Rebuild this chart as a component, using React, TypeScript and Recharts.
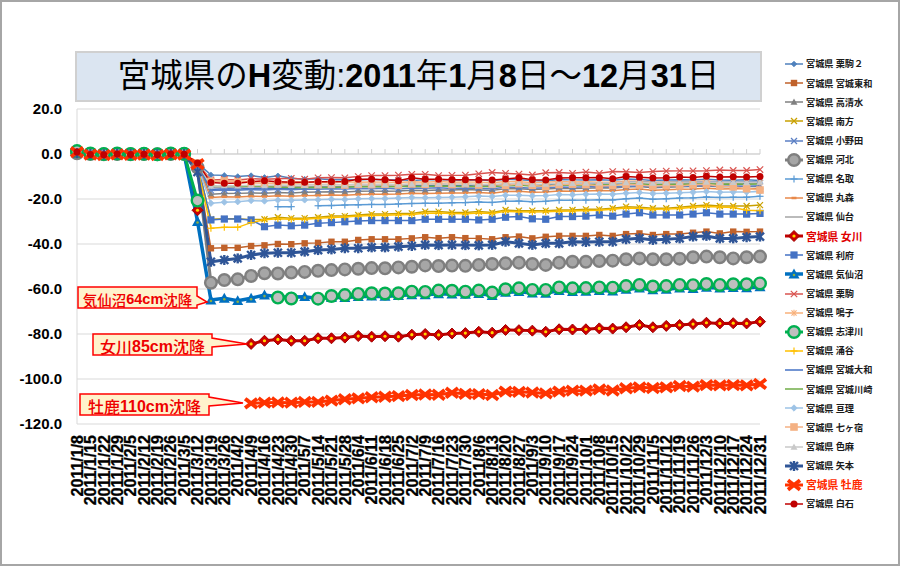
import React from 'react';
import { LineChart, Line, XAxis, YAxis, CartesianGrid, ReferenceLine, Legend } from 'recharts';

const dates = ['2011/1/8','2011/1/15','2011/1/22','2011/1/29','2011/2/5','2011/2/12','2011/2/19','2011/2/26','2011/3/5','2011/3/12','2011/3/19','2011/3/26','2011/4/2','2011/4/9','2011/4/16','2011/4/23','2011/4/30','2011/5/7','2011/5/14','2011/5/21','2011/5/28','2011/6/4','2011/6/11','2011/6/18','2011/6/25','2011/7/2','2011/7/9','2011/7/16','2011/7/23','2011/7/30','2011/8/6','2011/8/13','2011/8/20','2011/8/27','2011/9/3','2011/9/10','2011/9/17','2011/9/24','2011/10/1','2011/10/8','2011/10/15','2011/10/22','2011/10/29','2011/11/5','2011/11/12','2011/11/19','2011/11/26','2011/12/3','2011/12/10','2011/12/17','2011/12/24','2011/12/31'];

const yTicks = [20, 0, -20, -40, -60, -80, -100, -120];

const kurikoma2 = [0.6,-0.2,-0.4,0.1,-0.3,0.0,-0.2,0.2,-0.1,-4.0,
  -9.3,-9.5,-10.0,-9.6,-10.4,-9.7,-10.8,-11.2,-11.0,-11.4,
  -11.3,-11.5,-11.2,-11.6,-11.4,-11.8,-11.5,-11.3,-11.6,-11.7,
  -11.5,-11.9,-11.2,-11.4,-11.8,-12.0,-11.3,-11.5,-11.6,-11.4,
  -11.7,-11.1,-11.3,-11.8,-11.6,-11.4,-11.5,-11.2,-11.6,-11.7,
  -11.5,-11.8];
const towa = [0.5,0.0,-0.2,0.0,-0.1,0.0,-0.2,0.0,-0.1,-6.0,
  -41.9,-41.7,-41.7,-40.9,-40.6,-40.0,-40.1,-39.7,-39.5,-39.0,
  -39.0,-38.2,-37.9,-37.9,-37.9,-37.5,-37.0,-37.4,-37.0,-37.4,
  -37.5,-37.9,-37.0,-36.7,-37.5,-36.8,-36.4,-36.4,-36.4,-36.0,
  -36.4,-35.6,-35.3,-36.0,-35.6,-35.6,-35.0,-34.5,-35.3,-34.5,
  -34.6,-34.5];
const takashimizu = [0.7,-0.1,-0.3,0.0,-0.2,0.1,-0.3,0.1,0.0,-4.5,
  -17.9,-17.6,-17.5,-17.3,-17.4,-17.1,-17.3,-17.0,-16.9,-16.8,
  -16.9,-16.6,-16.5,-16.5,-16.4,-16.1,-16.2,-16.0,-16.0,-15.8,
  -16.0,-16.1,-15.5,-15.4,-15.8,-15.6,-15.2,-15.3,-15.2,-15.0,
  -15.1,-14.7,-14.5,-15.0,-14.8,-14.6,-14.5,-14.2,-14.5,-14.4,
  -14.4,-14.5];
const minamikata = [0.4,0.0,-0.2,0.1,-0.1,0.0,-0.2,0.1,0.0,-5.0,
  -29.0,-28.8,-28.8,-29.2,-29.0,-28.1,-28.5,-28.5,-28.1,-27.6,
  -27.6,-27.1,-26.7,-26.7,-26.4,-26.4,-25.6,-25.6,-26.0,-26.0,
  -25.6,-26.0,-24.9,-25.2,-25.2,-25.2,-24.9,-24.9,-24.6,-24.6,
  -24.1,-23.4,-23.7,-24.1,-24.1,-23.7,-23.1,-22.7,-23.1,-23.1,
  -23.1,-22.7];
const onoda = [0.5,-0.1,-0.2,0.0,-0.2,0.0,-0.1,0.0,-0.1,-4.8,
  -16.2,-16.0,-16.1,-15.8,-16.0,-15.7,-15.9,-15.6,-15.7,-15.5,
  -15.6,-15.3,-15.4,-15.2,-15.5,-15.1,-15.2,-15.0,-15.3,-15.1,
  -15.2,-15.4,-14.8,-14.9,-15.2,-15.0,-14.7,-14.8,-14.6,-14.6,
  -14.7,-14.3,-14.2,-14.6,-14.4,-14.3,-14.2,-14.0,-14.3,-14.2,
  -14.3,-14.1];
const kahoku = [0.3,0.0,-0.1,0.0,-0.1,0.0,-0.1,0.0,0.0,-6.0,
  -57.2,-56.0,-55.7,-54.2,-53.0,-53.1,-52.7,-52.4,-51.9,-51.6,
  -51.3,-51.0,-50.7,-50.8,-50.4,-50.1,-49.5,-49.8,-49.6,-49.7,
  -49.3,-48.9,-48.6,-48.3,-48.9,-49.3,-48.3,-47.9,-47.9,-47.6,
  -47.4,-46.8,-46.4,-46.8,-46.8,-46.5,-45.9,-45.6,-45.9,-46.4,
  -45.9,-45.6];
const natori = [0.5,0.0,-0.1,0.1,-0.1,0.0,-0.2,0.0,0.0,-5.0,
  null,null,null,null,null,-23.4,-23.4,null,-23.0,-22.9,
  -22.7,-22.6,-22.4,-22.4,-22.2,-22.0,-21.9,-21.9,-21.7,-21.6,
  -21.3,-21.5,-21.0,-20.9,-21.2,-21.0,-20.6,-20.6,-20.5,-20.3,
  -20.4,-19.9,-19.6,-20.1,-19.9,-19.6,-19.5,-19.1,-19.3,-19.2,
  -19.2,-18.8];
const marumori = [0.6,-0.1,-0.2,0.0,-0.2,0.0,-0.2,0.1,-0.1,-5.5,
  -19.3,-19.0,-19.1,-18.8,-18.9,-18.6,-18.8,-18.5,-18.4,-18.2,
  -18.3,-18.0,-17.9,-17.9,-17.8,-17.5,-17.6,-17.4,-17.3,-17.3,
  -17.1,-17.4,-16.7,-16.6,-17.0,-16.9,-16.4,-16.5,-16.4,-16.2,
  -16.3,-15.8,-15.6,-16.1,-15.9,-15.7,-15.6,-15.2,-15.5,-15.4,
  -15.4,-15.3];
const sendai = [0.4,0.0,-0.1,0.0,-0.1,0.0,-0.1,0.0,0.0,-4.2,
  -15.0,-14.8,-14.9,-14.6,-14.8,-14.5,-14.7,-14.4,-14.6,-14.4,
  -14.5,-14.2,-14.3,-14.2,-14.4,-14.0,-14.1,-13.9,-14.1,-14.0,
  -14.1,-14.3,-13.8,-13.8,-14.1,-14.0,-13.6,-13.7,-13.6,-13.5,
  -13.6,-13.2,-13.1,-13.5,-13.3,-13.2,-13.1,-12.9,-13.2,-13.1,
  -13.2,-13.0];
const onagawa = [1.2,0.0,-0.2,0.1,-0.1,0.0,-0.2,0.1,0.0,-25.0,
  null,null,null,-84.4,-83.0,-82.4,-83.0,-83.0,-81.9,-81.9,
  -81.6,-80.9,-81.2,-81.0,-81.2,-80.3,-80.0,-80.4,-79.8,-79.6,
  -79.0,-79.4,-78.2,-78.3,-78.5,-79.0,-77.9,-78.0,-77.9,-77.5,
  -77.6,-77.0,-76.0,-77.0,-76.4,-76.0,-75.6,-75.0,-75.3,-75.2,
  -75.3,-74.5];
const rifu = [0.5,0.0,-0.2,0.0,-0.1,0.1,-0.2,0.0,0.0,-5.0,
  -29.3,-28.9,-28.9,-29.3,-32.3,-31.6,-31.9,-31.6,-30.8,-30.5,
  -30.1,-29.8,-29.6,-29.6,-29.6,-29.6,-29.0,-29.0,-29.0,-29.0,
  -29.3,-29.0,-28.1,-27.8,-28.8,-29.0,-27.8,-27.8,-27.6,-27.1,
  -27.6,-26.7,-26.1,-27.1,-27.1,-27.1,-26.7,-26.1,-26.7,-26.7,
  -26.7,-26.4];
const kesennuma = [0.6,0.0,-0.1,0.1,0.0,0.0,-0.2,0.0,0.0,-30.0,
  -64.9,-64.1,-65.2,-64.1,-62.7,-63.4,-63.6,-63.4,-64.2,-63.8,
  -63.8,-63.4,-63.2,-63.3,-62.9,-62.6,-62.6,-62.1,-62.3,-62.4,
  -62.0,-62.9,-61.5,-61.2,-61.8,-61.9,-60.7,-61.1,-61.0,-60.7,
  -60.9,-60.2,-59.6,-60.4,-60.1,-59.6,-59.8,-59.3,-59.6,-59.4,
  -59.5,-59.0];
const kurikoma = [0.5,-0.1,-0.3,0.0,-0.2,0.0,-0.2,0.1,-0.1,-4.0,
  -11.5,-11.3,-11.5,-11.0,-11.2,-11.0,-10.8,-11.2,-10.6,-10.5,
  -10.6,-10.0,-9.6,-9.6,-9.4,-9.0,-9.0,-9.6,-9.5,-9.4,
  -8.8,-8.2,-8.6,-8.9,-9.3,-8.3,-8.2,-8.6,-8.0,-8.6,
  -7.8,-7.9,-8.2,-7.8,-7.6,-7.5,-7.5,-7.4,-7.1,-7.3,
  -7.3,-6.9];
const naruko = [0.5,0.0,-0.2,0.1,-0.1,0.0,-0.2,0.0,0.0,-4.5,
  -11.9,-12.1,-12.0,-12.3,-12.2,-12.5,-12.3,-12.6,-12.4,-12.5,
  -12.3,-12.6,-12.4,-12.5,-12.7,-12.3,-12.5,-12.2,-12.6,-12.4,
  -12.5,-12.8,-12.2,-12.3,-12.7,-12.6,-12.2,-12.4,-12.3,-12.5,
  -12.4,-12.1,-12.0,-12.5,-12.4,-12.3,-12.2,-12.0,-12.4,-12.5,
  -12.6,-12.7];
const shizugawa = [1.3,0.2,0.0,0.2,0.0,0.1,-0.1,0.2,0.1,-20.7,
  null,null,null,null,null,-63.8,-64.2,null,-64.3,-63.1,
  -62.7,-62.2,-61.9,-62.0,-61.9,-61.2,-61.3,-60.7,-60.8,-61.2,
  -60.7,-61.6,-60.1,-59.7,-60.4,-60.4,-59.3,-59.7,-59.6,-59.3,
  -59.4,-58.7,-58.2,-58.9,-58.7,-58.2,-58.3,-57.8,-58.2,-57.9,
  -57.9,-57.5];
const wakuya = [0.4,0.0,-0.2,0.0,-0.1,0.0,-0.2,0.0,-0.1,-6.0,
  -33.0,-32.6,-32.6,-30.5,-29.2,-28.8,-29.0,-29.0,-28.6,-28.2,
  -28.0,-27.6,-27.3,-27.2,-27.0,-26.9,-26.3,-26.2,-26.5,-26.6,
  -26.2,-26.4,-25.5,-25.7,-25.8,-25.7,-25.4,-25.3,-25.1,-25.0,
  -24.6,-24.0,-24.2,-24.6,-24.5,-24.2,-23.7,-23.3,-23.6,-23.8,
  -25.0,-25.2];
const yamato = [0.5,0.0,-0.1,0.0,-0.1,0.0,-0.1,0.0,0.0,-4.5,
  -15.8,-15.5,-15.6,-15.3,-15.4,-15.1,-15.3,-15.0,-14.9,-14.8,
  -14.8,-14.5,-14.4,-14.3,-14.4,-14.1,-14.1,-13.9,-14.0,-13.9,
  -13.8,-14.0,-13.4,-13.4,-13.7,-13.6,-13.2,-13.2,-13.1,-13.0,
  -13.0,-12.6,-12.5,-12.8,-12.7,-12.6,-12.5,-12.3,-12.5,-12.4,
  -12.4,-12.2];
const kawasaki = [0.5,0.0,-0.2,0.0,-0.1,0.0,-0.2,0.0,0.0,-4.0,
  -14.2,-14.0,-14.3,-14.2,-14.5,-14.8,-14.9,-15.0,-14.8,-14.9,
  -14.7,-14.6,-14.5,-14.6,-14.4,-14.3,-14.4,-14.2,-14.3,-14.4,
  -14.3,-14.5,-14.0,-13.9,-14.2,-14.1,-13.8,-13.9,-13.8,-13.7,
  -13.8,-13.4,-13.3,-13.7,-13.6,-13.4,-13.4,-13.2,-13.4,-13.3,
  -13.4,-13.3];
const watari = [0.6,0.0,-0.2,0.1,-0.1,0.0,-0.2,0.1,0.0,-5.5,
  -21.9,-21.4,-21.2,-20.7,-20.9,-20.5,-20.6,-20.4,-20.3,-20.1,
  -20.2,-19.9,-19.8,-19.8,-19.6,-19.3,-19.4,-19.3,-19.2,-19.0,
  -18.7,-18.9,-18.3,-18.3,-18.6,-18.5,-18.0,-18.1,-17.9,-17.8,
  -17.9,-17.4,-17.1,-17.6,-17.4,-17.2,-17.0,-16.7,-17.0,-16.9,
  -16.9,-16.7];
const shichikashuku = [0.7,0.0,-0.2,0.1,-0.1,0.0,-0.2,0.1,0.0,-4.0,
  -12.2,-12.0,-12.5,-12.8,-13.0,-13.2,-13.0,-13.4,-13.6,-13.5,
  -13.8,-13.5,-13.6,-13.4,-13.8,-13.3,-13.5,-13.0,-13.6,-13.2,
  -13.8,-13.5,-14.0,-13.2,-13.9,-14.5,-13.6,-13.4,-13.6,-14.2,
  -14.0,-13.5,-13.8,-14.3,-14.0,-14.2,-13.7,-13.5,-14.3,-14.6,
  -15.4,-16.0];
const shikama = [0.5,0.0,-0.1,0.0,-0.1,0.0,-0.2,0.0,0.0,-4.2,
  -14.2,-14.0,-14.1,-13.9,-14.0,-13.8,-13.9,-13.7,-13.8,-13.6,
  -13.7,-13.5,-13.6,-13.5,-13.6,-13.3,-13.4,-13.2,-13.4,-13.3,
  -13.4,-13.6,-13.1,-13.0,-13.4,-13.3,-12.9,-13.0,-12.9,-12.8,
  -12.9,-12.6,-12.5,-12.9,-12.7,-12.6,-12.5,-12.4,-12.6,-12.5,
  -12.6,-12.4];
const yamoto = [0.4,0.0,-0.1,0.1,0.0,0.0,-0.1,0.1,0.0,-8.0,
  -47.9,-47.1,-46.4,-44.9,-44.1,-43.9,-43.9,-43.4,-42.7,-42.4,
  -41.9,-41.9,-41.5,-41.5,-41.2,-40.9,-40.4,-40.5,-40.4,-40.5,
  -40.6,-40.4,-39.0,-39.7,-40.4,-39.7,-39.7,-39.0,-39.1,-39.0,
  -39.0,-37.9,-37.5,-38.2,-37.9,-37.5,-36.7,-36.4,-37.5,-37.5,
  -37.0,-36.7];
const oshika = [0.8,-0.3,-0.5,-0.2,-0.4,-0.3,-0.5,-0.2,-0.3,-4.5,
  null,null,null,-110.8,-110.5,-110.4,-110.5,-110.2,-110.2,-109.6,
  -109.0,-108.6,-108.1,-107.9,-107.6,-107.1,-106.9,-107.0,-106.1,-106.6,
  -106.7,-107.1,-105.6,-105.7,-106.0,-106.4,-105.6,-105.2,-105.2,-104.6,
  -105.1,-104.1,-103.7,-104.0,-103.7,-103.1,-103.4,-102.7,-102.8,-102.7,
  -102.8,-102.2];
const shiroishi = [0.9,-0.2,-0.3,0.0,-0.2,-0.1,-0.3,0.0,-0.1,-4.0,
  -12.7,-13.0,-13.0,-12.3,-11.9,-12.3,-12.6,-12.6,-12.3,-12.3,
  -12.2,-11.2,-11.2,-11.4,-11.9,-10.6,-11.2,-11.2,-11.4,-11.4,
  -11.5,-11.6,-11.1,-10.6,-11.4,-11.6,-10.7,-10.6,-10.6,-10.5,
  -11.0,-10.0,-10.3,-10.7,-10.6,-10.2,-10.4,-9.9,-10.2,-10.1,
  -10.2,-10.0];

type Spec = {
  key: string; name: string; data: (number | null)[]; color: string; width: number;
  marker: string; size: number; fill?: string; legendColor?: string; legendBold?: boolean;
};

const series: Spec[] = [
  { key: 's01', name: '宮城県 栗駒２', data: kurikoma2, color: '#4f81bd', width: 1.5, marker: 'diamond', size: 2.8 },
  { key: 's02', name: '宮城県 宮城東和', data: towa, color: '#c0622b', width: 1.5, marker: 'square', size: 3.2 },
  { key: 's03', name: '宮城県 高清水', data: takashimizu, color: '#808080', width: 1.5, marker: 'triangle', size: 3.5 },
  { key: 's04', name: '宮城県 南方', data: minamikata, color: '#c9a000', width: 1.5, marker: 'x', size: 3 },
  { key: 's05', name: '宮城県 小野田', data: onoda, color: '#5b7fc4', width: 1.5, marker: 'x', size: 3 },
  { key: 's06', name: '宮城県 河北', data: kahoku, color: '#7f7f7f', width: 3, marker: 'ring', size: 5.8, fill: '#a6a6a6' },
  { key: 's07', name: '宮城県 名取', data: natori, color: '#5b9bd5', width: 1.5, marker: 'plus', size: 3.5 },
  { key: 's08', name: '宮城県 丸森', data: marumori, color: '#e8894a', width: 1.5, marker: 'dash', size: 2.5 },
  { key: 's09', name: '宮城県 仙台', data: sendai, color: '#a5a5a5', width: 1.5, marker: 'none', size: 0 },
  { key: 's10', name: '宮城県 女川', data: onagawa, color: '#c00000', width: 3, marker: 'diamondDot', size: 5.5, legendColor: '#e00000', legendBold: true },
  { key: 's11', name: '宮城県 利府', data: rifu, color: '#4472c4', width: 1.5, marker: 'square', size: 3.6 },
  { key: 's12', name: '宮城県 気仙沼', data: kesennuma, color: '#0070c0', width: 3.5, marker: 'triDot', size: 5.5 },
  { key: 's13', name: '宮城県 栗駒', data: kurikoma, color: '#d9534f', width: 1.5, marker: 'x', size: 3.2 },
  { key: 's14', name: '宮城県 鳴子', data: naruko, color: '#f8b07a', width: 1.5, marker: 'star', size: 3.2 },
  { key: 's15', name: '宮城県 志津川', data: shizugawa, color: '#00b050', width: 3, marker: 'ring', size: 5.8, fill: '#bfbfbf' },
  { key: 's16', name: '宮城県 涌谷', data: wakuya, color: '#ffc000', width: 1.5, marker: 'plus', size: 3.5 },
  { key: 's17', name: '宮城県 宮城大和', data: yamato, color: '#4472c4', width: 1.5, marker: 'none', size: 0 },
  { key: 's18', name: '宮城県 宮城川崎', data: kawasaki, color: '#70ad47', width: 1.5, marker: 'none', size: 0 },
  { key: 's19', name: '宮城県 亘理', data: watari, color: '#9dc3e6', width: 1.5, marker: 'diamond', size: 3.2 },
  { key: 's20', name: '宮城県 七ヶ宿', data: shichikashuku, color: '#f4b183', width: 1.5, marker: 'square', size: 3.8 },
  { key: 's21', name: '宮城県 色麻', data: shikama, color: '#c9c9c9', width: 1.5, marker: 'triangle', size: 3.5 },
  { key: 's22', name: '宮城県 矢本', data: yamoto, color: '#2f5597', width: 3, marker: 'star', size: 5 },
  { key: 's23', name: '宮城県 牡鹿', data: oshika, color: '#ff3300', width: 3, marker: 'bigx', size: 4.5, legendColor: '#ff2a00', legendBold: true },
  { key: 's24', name: '宮城県 白石', data: shiroishi, color: '#c00000', width: 1.5, marker: 'circle', size: 3.5 },
];

const rows = dates.map((d, i) => {
  const r: any = { date: d };
  series.forEach((s) => { r[s.key] = s.data[i]; });
  return r;
});

const callouts = [
  { x0: 78, y0: 287, x1: 197, y1: 308, wy0: 296, wy1: 305, tx: 207, ty: 302, size: 14.5, parts: [['気仙沼', false], ['64cm', true], ['沈降', false]] },
  { x0: 93, y0: 334, x1: 212, y1: 355, wy0: 338, wy1: 347, tx: 247, ty: 344, size: 16, parts: [['女川', false], ['85cm', true], ['沈降', false]] },
  { x0: 80, y0: 394, x1: 209, y1: 415, wy0: 397, wy1: 406, tx: 243, ty: 403, size: 16, parts: [['牡鹿', false], ['110cm', true], ['沈降', false]] },
];

const CJK = '"Noto Sans CJK JP", "Noto Sans CJK SC", sans-serif';
const LAT = '"Liberation Sans", Arial, sans-serif';

function drawMarker(s: Spec, cx: number, cy: number, key: string) {
  const c = s.color;
  const r = s.size;
  switch (s.marker) {
    case 'diamond':
      return <polygon key={key} points={`${cx},${cy - r} ${cx + r},${cy} ${cx},${cy + r} ${cx - r},${cy}`} fill={c} stroke={c} strokeWidth={0.8} />;
    case 'diamondDot':
      return (
        <g key={key}>
          <polygon points={`${cx},${cy - r} ${cx + r},${cy} ${cx},${cy + r} ${cx - r},${cy}`} fill="#cc0000" stroke="#a00000" strokeWidth={1} />
          <circle cx={cx} cy={cy} r={1.6} fill="#ffd700" />
        </g>
      );
    case 'square':
      return <rect key={key} x={cx - r} y={cy - r} width={2 * r} height={2 * r} fill={c} />;
    case 'triangle':
      return <polygon key={key} points={`${cx},${cy - r} ${cx + r},${cy + r * 0.8} ${cx - r},${cy + r * 0.8}`} fill={c} />;
    case 'triDot':
      return (
        <g key={key}>
          <polygon points={`${cx},${cy - r} ${cx + r},${cy + r * 0.8} ${cx - r},${cy + r * 0.8}`} fill={c} />
          <circle cx={cx} cy={cy + 1} r={1.3} fill="#8fae3f" />
        </g>
      );
    case 'x':
      return (
        <g key={key} stroke={c} strokeWidth={1.2}>
          <line x1={cx - r} y1={cy - r} x2={cx + r} y2={cy + r} />
          <line x1={cx - r} y1={cy + r} x2={cx + r} y2={cy - r} />
        </g>
      );
    case 'plus':
      return (
        <g key={key} stroke={c} strokeWidth={1.2}>
          <line x1={cx - r} y1={cy} x2={cx + r} y2={cy} />
          <line x1={cx} y1={cy - r} x2={cx} y2={cy + r} />
        </g>
      );
    case 'star': {
      const w = s.width > 2 ? 2.4 : 1.1;
      const d = r * 0.8;
      return (
        <g key={key} stroke={c} strokeWidth={w}>
          <line x1={cx - d} y1={cy - d} x2={cx + d} y2={cy + d} />
          <line x1={cx - d} y1={cy + d} x2={cx + d} y2={cy - d} />
          <line x1={cx} y1={cy - r} x2={cx} y2={cy + r} />
        </g>
      );
    }
    case 'circle':
      return <circle key={key} cx={cx} cy={cy} r={r} fill={c} />;
    case 'ring':
      return <circle key={key} cx={cx} cy={cy} r={r} fill={s.fill} stroke={c} strokeWidth={2.4} />;
    case 'dash':
      return <line key={key} x1={cx - r} y1={cy} x2={cx + r} y2={cy} stroke={c} strokeWidth={2.5} />;
    case 'bigx':
      return (
        <g key={key} stroke={c} strokeWidth={3.8} strokeLinecap="square">
          <line x1={cx - r} y1={cy - r + 1} x2={cx + r} y2={cy + r - 1} />
          <line x1={cx - r} y1={cy + r - 1} x2={cx + r} y2={cy - r + 1} />
        </g>
      );
    default:
      return <g key={key} />;
  }
}

const makeDot = (s: Spec) => (p: any) => {
  const key = `${s.key}-${p.index}`;
  if (p.cx == null || p.cy == null || p.value == null) return <g key={key} />;
  return drawMarker(s, p.cx, p.cy, key);
};

const XTick = (props: any) => {
  const { x, y, payload } = props;
  return (
    <text x={x} y={y} transform={`rotate(-90 ${x} ${y})`} textAnchor="end" dy="0.36em"
      fontFamily={LAT} fontWeight="bold" fontSize={16} fill="#000" stroke="#000" strokeWidth={0.3}>
      {payload.value}
    </text>
  );
};

const LegendContent = () => (
  <div style={{ display: 'flex', flexDirection: 'column' }}>
    {series.map((s) => (
      <div key={s.key} style={{ display: 'flex', alignItems: 'center', height: 19.13 }}>
        <svg width={20} height={14} style={{ flex: 'none' }}>
          <line x1={1} y1={7} x2={19} y2={7} stroke={s.color} strokeWidth={s.width} />
          {drawMarker(s, 10, 7, 'lg')}
        </svg>
        <span style={{
          marginLeft: 2, whiteSpace: 'nowrap', fontFamily: CJK,
          fontSize: s.legendBold ? 10.8 : 9.2, fontWeight: 700,
          color: s.legendColor || '#1a1a1a', lineHeight: 1,
        }}>{s.name}</span>
      </div>
    ))}
  </div>
);

export default function App() {
  return (
    <div style={{ position: 'absolute', left: 0, top: 0, width: 900, height: 566, background: '#fff', overflow: 'hidden' }}>
      <div style={{ position: 'absolute', left: 0, top: 0 }}>
        <LineChart width={900} height={566} data={rows} margin={{ top: 109, right: 140, bottom: 0, left: 0 }}>
          <CartesianGrid vertical={false} stroke="#d9d9d9" />
          <XAxis dataKey="date" interval={0} tick={<XTick />} tickLine={false} axisLine={false}
            height={142} tickSize={0} tickMargin={11} />
          <YAxis type="number" domain={[-120, 20]} ticks={yTicks} width={77}
            tickFormatter={(v: number) => v.toFixed(1)} axisLine={{ stroke: '#d9d9d9' }}
            tickLine={false} tickSize={0} tickMargin={15}
            tick={{ fontSize: 15, fontWeight: 'bold', fill: '#000', fontFamily: LAT }} />
          <ReferenceLine y={0} stroke="#cfcfcf" />
          {dates.map((d) => (
            <ReferenceLine key={`t-${d}`} segment={[{ x: d, y: 0 }, { x: d, y: 2.2 }]} stroke="#cfcfcf" />
          ))}
          {series.map((s) => (
            <Line key={s.key} type="linear" dataKey={s.key} name={s.name} stroke={s.color}
              strokeWidth={s.width} dot={makeDot(s)} activeDot={false}
              connectNulls={false} isAnimationActive={false} />
          ))}
          <Legend layout="vertical" align="center" verticalAlign="middle" content={<LegendContent />}
            wrapperStyle={{ left: 784, top: 54.5, width: 116 }} />
        </LineChart>
      </div>

      <div style={{
        position: 'absolute', left: 75, top: 51, width: 687, height: 51, boxSizing: 'border-box',
        background: '#dbe5f1', border: '2px solid #d0d0d0', display: 'flex', alignItems: 'center',
        justifyContent: 'center', fontFamily: `${LAT.split(',')[0]}, ${CJK}`, fontSize: 32.5, color: '#000',
        whiteSpace: 'nowrap', lineHeight: 1,
      }}>
        <span>宮城県の</span><b>H</b><span>変動:</span><b>2011</b><span>年</span><b>1</b><span>月</span><b>8</b><span>日～</span><b>12</b><span>月</span><b>31</b><span>日</span>
      </div>

      <svg width={900} height={566} style={{ position: 'absolute', left: 0, top: 0, pointerEvents: 'none' }}>
        {callouts.map((c, i) => (
          <g key={i}>
            <path d={`M${c.x0},${c.y0} H${c.x1} V${c.wy0} L${c.tx},${c.ty} L${c.x1},${c.wy1} V${c.y1} H${c.x0} Z`}
              fill="#fff2cc" stroke="#ff0000" strokeWidth={1.5} />
            <text x={(c.x0 + c.x1) / 2} y={(c.y0 + c.y1) / 2 + 1} textAnchor="middle" dominantBaseline="central"
              fill="#ee0000" fontSize={c.size}>
              {c.parts.map((p, j) => (
                <tspan key={j} fontFamily={p[1] ? LAT : CJK} fontWeight={p[1] ? 'bold' : 500}>{p[0] as string}</tspan>
              ))}
            </text>
          </g>
        ))}
      </svg>

      <div style={{ position: 'absolute', left: 0, top: 0, width: 900, height: 566, boxSizing: 'border-box', border: '2px solid #a6a6a6', pointerEvents: 'none' }} />
    </div>
  );
}
